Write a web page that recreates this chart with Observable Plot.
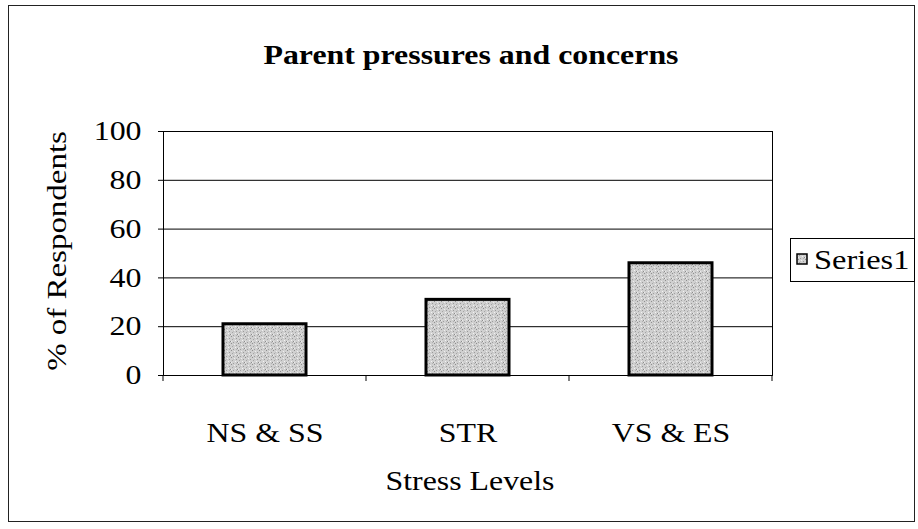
<!DOCTYPE html>
<html>
<head>
<meta charset="utf-8">
<script src="https://cdn.jsdelivr.net/npm/d3@7"></script>
<script src="https://cdn.jsdelivr.net/npm/@observablehq/plot@0.6"></script>
<style>
  html, body { margin: 0; padding: 0; background: #fff; }
  #chart { width: 918px; height: 529px; }
</style>
</head>
<body>
<div id="chart"></div>
<script>
const chartTitle = "Parent pressures and concerns";
const categories = ["NS & SS", "STR", "VS & ES"];
const values = [21, 31, 46];
const yTicks = [0, 20, 40, 60, 80, 100];
const xTitle = "Stress Levels";
const yTitle = "% of Respondents";
const seriesName = "Series1";

const data = categories.map((c, i) => ({category: c, value: values[i]}));

const serif = "'Liberation Serif', 'Times New Roman', serif";
const FS = 27;       // font size
const SX = 1.18;     // horizontal stretch of the scanned lettering

const plot = Plot.plot({
  width: 918,
  height: 529,
  marginLeft: 163,
  marginRight: 146,
  marginTop: 131,
  marginBottom: 154,
  style: {fontFamily: serif, fontSize: FS + "px", background: "white", color: "black"},
  x: {domain: categories, paddingInner: 0.59, paddingOuter: 0.295, label: null},
  y: {domain: [0, 100], label: null},
  marks: [
    Plot.gridY(yTicks, {stroke: "black", strokeOpacity: 1, strokeWidth: 1}),
    Plot.barY(data, {x: "category", y: "value", fill: "url(#stipple)", stroke: "black", strokeWidth: 3}),
    Plot.frame({stroke: "black", strokeWidth: 1}),
    Plot.axisY(yTicks, {tickSize: 5, tickPadding: 17, stroke: "black", fontSize: FS, label: null}),
    Plot.axisX({tickSize: 0, tickPadding: 47, fontSize: FS, label: null})
  ]
});

const svg = d3.select(plot);

// stipple pattern
const defs = svg.insert("defs", ":first-child");
const pat = defs.append("pattern").attr("id", "stipple").attr("patternUnits", "userSpaceOnUse")
  .attr("width", 7).attr("height", 7);
pat.append("rect").attr("width", 7).attr("height", 7).attr("fill", "#d0d0d0");
const dots = [[0,0,"#8f8f8f"],[3,1,"#eeeeee"],[5,2,"#9a9a9a"],[1,3,"#a5a5a5"],[4,4,"#f2f2f2"],[6,5,"#8c8c8c"],[2,6,"#9e9e9e"],[0,5,"#ececec"],[5,6,"#b0b0b0"],[2,2,"#bdbdbd"]];
for (const [dx, dy, c] of dots) pat.append("rect").attr("x", dx).attr("y", dy).attr("width", 1).attr("height", 1).attr("fill", c);

// band boundary ticks on the x axis
const xs = plot.scale("x");
const ys = plot.scale("y");
const xScale = d3.scaleBand().domain(xs.domain).range(xs.range).paddingInner(0.59).paddingOuter(0.295);
const centers = categories.map(c => xScale(c) + xScale.bandwidth() / 2);
const bounds = [centers[0] - xScale.step() / 2, ...centers.map(c => c + xScale.step() / 2)];
const y0 = ys.apply(0);
svg.append("g").selectAll("line").data(bounds).join("line")
  .attr("x1", d => d).attr("x2", d => d).attr("y1", y0).attr("y2", y0 + 6)
  .attr("stroke", "black");

// outer border
svg.append("rect").attr("x", 8.5).attr("y", 5.5).attr("width", 906).attr("height", 516)
  .attr("fill", "none").attr("stroke", "#222").attr("stroke-width", 1);

// title
svg.append("text").attr("x", 471).attr("y", 64).attr("text-anchor", "middle")
  .attr("font-weight", "bold").attr("font-size", FS)
  .attr("font-family", serif).text(chartTitle);

// y title
svg.append("text").attr("transform", `translate(57,251) rotate(-90)`).attr("text-anchor", "middle")
  .attr("dy", "0.35em").attr("font-size", FS).attr("data-sx", 1.22)
  .attr("font-family", serif).text(yTitle);

// x title
svg.append("text").attr("x", 470).attr("y", 490).attr("text-anchor", "middle")
  .attr("font-size", FS)
  .attr("font-family", serif).text(xTitle);

// legend
const lg = svg.append("g");
lg.append("rect").attr("x", 790.5).attr("y", 238.5).attr("width", 124).attr("height", 43)
  .attr("fill", "white").attr("stroke", "black");
lg.append("rect").attr("x", 797).attr("y", 254).attr("width", 10).attr("height", 10)
  .attr("fill", "url(#stipple)").attr("stroke", "black").attr("stroke-width", 1.5);
lg.append("text").attr("x", 814).attr("y", 269).attr("text-anchor", "start")
  .attr("font-size", FS).attr("data-sx", 1.2)
  .attr("font-family", serif).text(seriesName);

document.getElementById("chart").appendChild(plot);

// widen the lettering like the scanned original (glyph stretch via textLength)
svg.selectAll("text").each(function() {
  const s = +(this.getAttribute("data-sx") || SX);
  const len = this.getComputedTextLength();
  if (len > 0) {
    this.setAttribute("textLength", (len * s).toFixed(1));
    this.setAttribute("lengthAdjust", "spacingAndGlyphs");
  }
});
</script>
</body>
</html>
